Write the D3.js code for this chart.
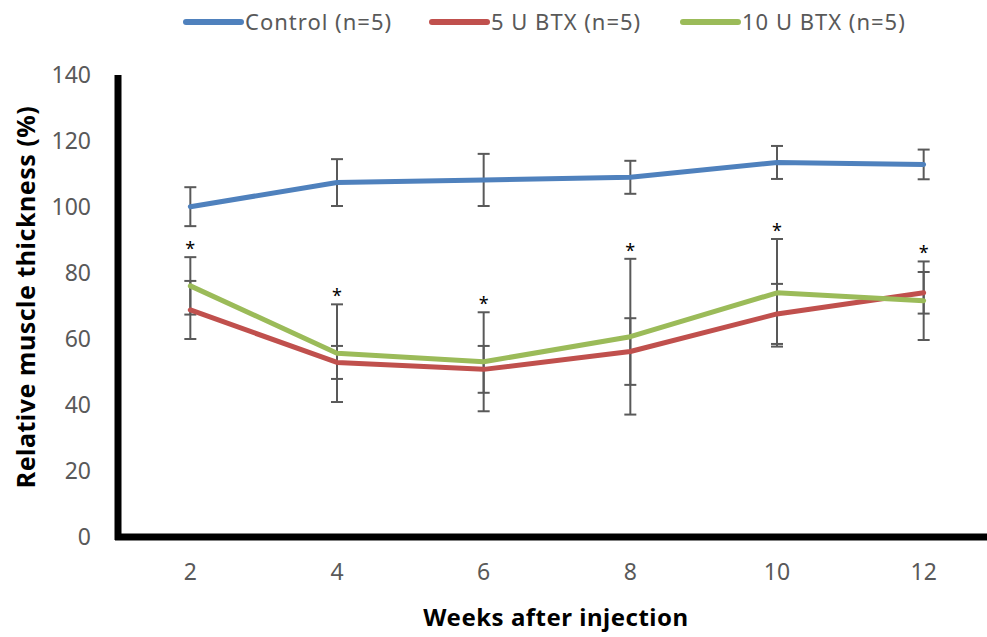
<!DOCTYPE html>
<html>
<head>
    <script src="https://d3js.org/d3.v7.min.js"></script>
    <style>
        body { margin: 0; background: #fff; }
        text { font-family: "Noto Sans", "Open Sans", sans-serif; }
    </style>
</head>
<body>
    <svg width="987" height="637"></svg>
    <script>
        var weeks = ["2", "4", "6", "8", "10", "12"];
        var controlMean = [100.1, 107.4, 108.2, 109.0, 113.5, 112.9];
        var controlSd = [5.9, 7.1, 7.9, 5.0, 5.0, 4.5];
        var btx5Mean = [68.8, 52.9, 50.8, 56.2, 67.6, 74.0];
        var btx5Sd = [8.8, 5.0, 7.1, 10.1, 9.1, 6.3];
        var btx10Mean = [76.1, 55.7, 53.1, 60.7, 74.0, 71.6];
        var btx10Sd = [8.7, 14.8, 15.0, 23.6, 16.3, 11.9];
        var yTicks = [0, 20, 40, 60, 80, 100, 120, 140];

        var series = [
            {name: "Control (n=5)", color: "#4F81BD", mean: controlMean, sd: controlSd},
            {name: "5 U BTX (n=5)", color: "#C0504D", mean: btx5Mean, sd: btx5Sd},
            {name: "10 U BTX (n=5)", color: "#9BBB59", mean: btx10Mean, sd: btx10Sd}
        ];

        var svg = d3.select("svg");

        var x = d3.scalePoint().domain(weeks).range([117, 997]).padding(0.5);
        var y = d3.scaleLinear().domain([0, 140]).range([537, 75]);

        // y tick labels
        svg.append("g").selectAll("text").data(yTicks).enter().append("text")
            .attr("x", 91)
            .attr("y", function(d) { return y(d); })
            .attr("dy", "0.35em")
            .attr("text-anchor", "end")
            .attr("fill", "#595959")
            .style("font-size", "23px")
            .text(function(d) { return d; });

        // x tick labels
        svg.append("g").selectAll("text").data(weeks).enter().append("text")
            .attr("x", function(d) { return x(d); })
            .attr("y", 572)
            .attr("dy", "0.35em")
            .attr("text-anchor", "middle")
            .attr("fill", "#595959")
            .style("font-size", "23px")
            .text(function(d) { return d; });

        // error bars (drawn under lines)
        var errG = svg.append("g");
        series.forEach(function(s) {
            weeks.forEach(function(w, i) {
                var cx = x(w), top = y(s.mean[i] + s.sd[i]), bot = y(s.mean[i] - s.sd[i]);
                errG.append("line").attr("x1", cx).attr("x2", cx).attr("y1", top).attr("y2", bot)
                    .attr("stroke", "#595959").attr("stroke-width", 2);
                [top, bot].forEach(function(yy) {
                    errG.append("line").attr("x1", cx - 6).attr("x2", cx + 6).attr("y1", yy).attr("y2", yy)
                        .attr("stroke", "#595959").attr("stroke-width", 2);
                });
            });
        });

        // series lines
        var line = d3.line()
            .x(function(d) { return x(d.w); })
            .y(function(d) { return y(d.v); });

        series.forEach(function(s) {
            var pts = weeks.map(function(w, i) { return {w: w, v: s.mean[i]}; });
            svg.append("path").datum(pts)
                .attr("d", line)
                .attr("fill", "none")
                .attr("stroke", s.color)
                .attr("stroke-width", 5)
                .attr("stroke-linecap", "round")
                .attr("stroke-linejoin", "round");
        });

        // significance stars above the highest BTX error bar
        svg.append("g").selectAll("text").data(weeks).enter().append("text")
            .attr("x", function(d) { return x(d); })
            .attr("y", function(d, i) {
                var t = Math.max(btx5Mean[i] + btx5Sd[i], btx10Mean[i] + btx10Sd[i]);
                return y(t) - 2;
            })
            .attr("text-anchor", "middle")
            .attr("fill", "#000")
            .style("font-size", "18px")
            .text("*");

        // axes (thick black)
        svg.append("line").attr("x1", 118).attr("x2", 118).attr("y1", 75).attr("y2", 540)
            .attr("stroke", "#000").attr("stroke-width", 7);
        svg.append("line").attr("x1", 115).attr("x2", 997).attr("y1", 537).attr("y2", 537)
            .attr("stroke", "#000").attr("stroke-width", 7);

        // axis titles
        svg.append("text")
            .attr("x", 556).attr("y", 626)
            .attr("text-anchor", "middle")
            .attr("fill", "#000")
            .style("font-size", "24px").style("font-weight", "bold")
            .style("letter-spacing", "0.5px")
            .text("Weeks after injection");

        svg.append("text")
            .attr("transform", "translate(35,297) rotate(-90)")
            .attr("text-anchor", "middle")
            .attr("fill", "#000")
            .style("font-size", "25px").style("font-weight", "bold")
            .style("letter-spacing", "0.5px")
            .text("Relative muscle thickness (%)");

        // legend
        var legendX = [186, 432, 683];
        var leg = svg.append("g").selectAll("g").data(series).enter().append("g")
            .attr("transform", function(d, i) { return "translate(" + legendX[i] + ",22)"; });
        leg.append("line").attr("x1", 0).attr("x2", 55).attr("y1", 0).attr("y2", 0)
            .attr("stroke", function(d) { return d.color; })
            .attr("stroke-width", 6).attr("stroke-linecap", "round");
        leg.append("text").attr("x", 59).attr("y", 0).attr("dy", "0.35em")
            .attr("fill", "#595959")
            .style("font-size", "22px")
            .style("letter-spacing", "1px")
            .text(function(d) { return d.name; });
    </script>
</body>
</html>
